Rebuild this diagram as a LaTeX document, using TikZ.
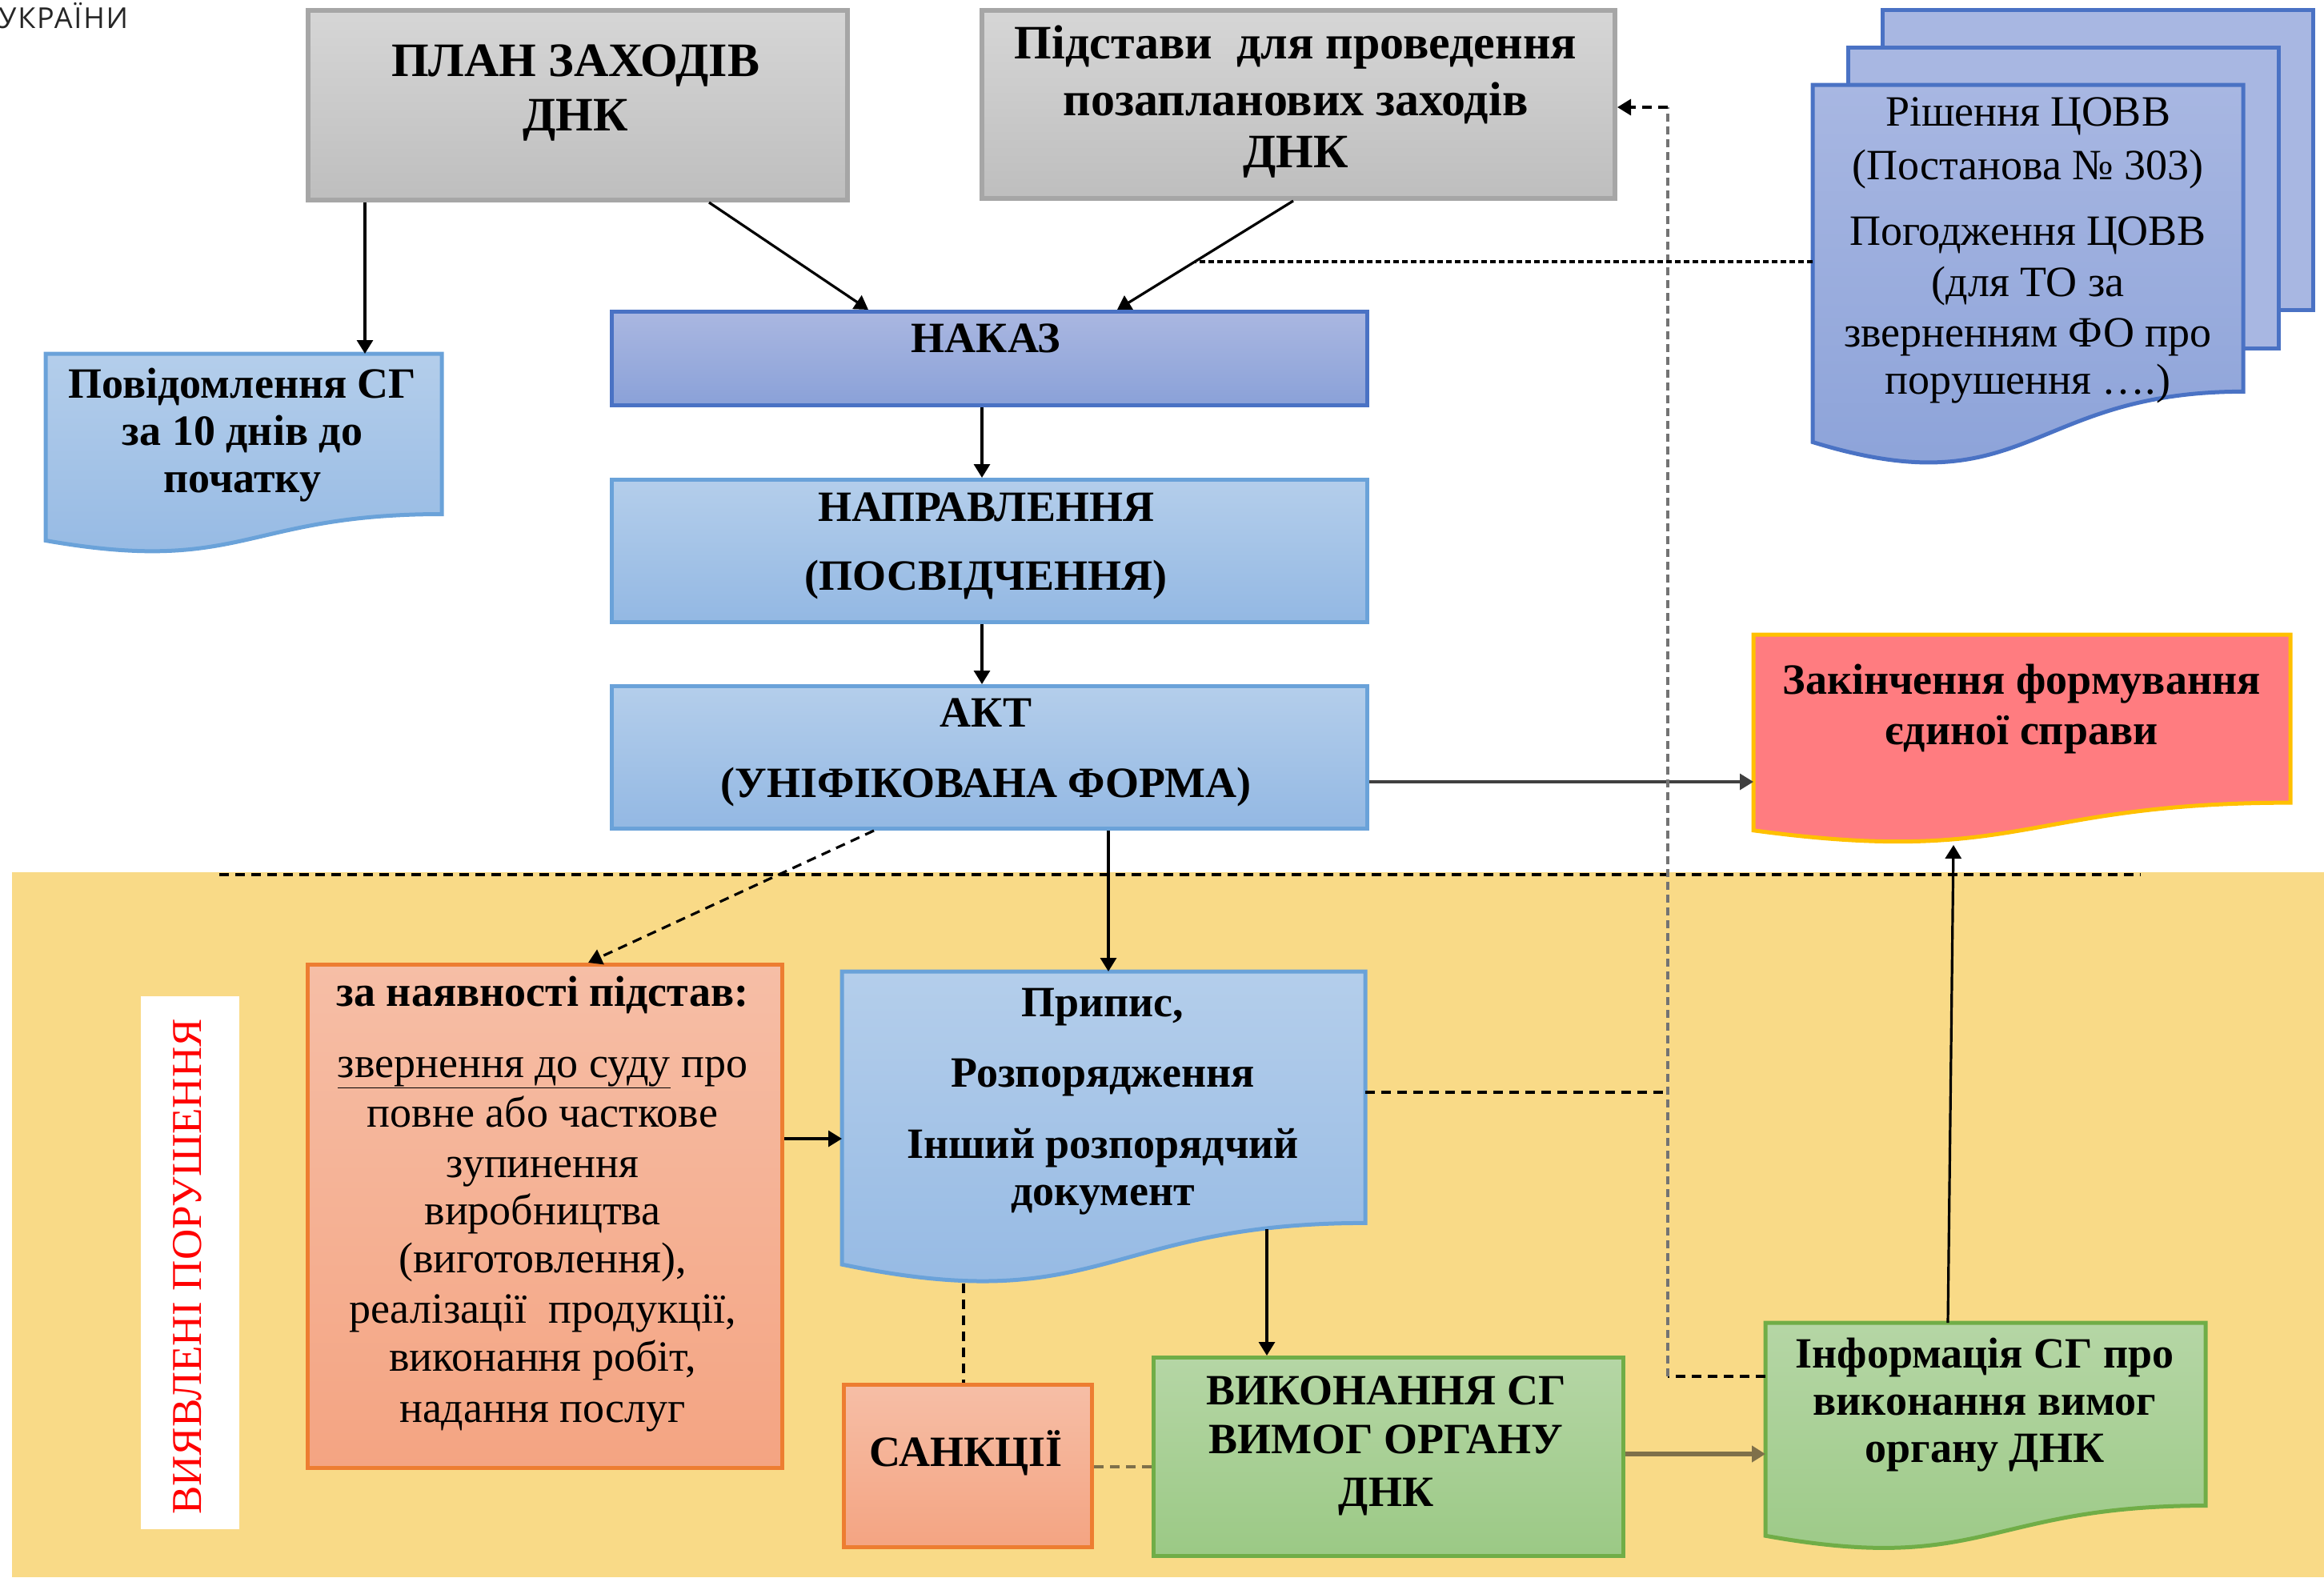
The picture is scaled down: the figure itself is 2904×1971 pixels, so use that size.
\documentclass[tikz,border=0pt]{standalone}
\usepackage{fontspec}
\setmainfont{Liberation Serif}
\newfontfamily\sansf[LetterSpace=5]{Open Sans}
\usetikzlibrary{arrows.meta,calc}
\definecolor{bgY}{HTML}{F9DA87}
\definecolor{grT}{HTML}{D6D6D6}
\definecolor{grB}{HTML}{BEBEBE}
\definecolor{grD}{HTML}{A6A6A6}
\definecolor{nkT}{HTML}{AAB7E1}
\definecolor{nkB}{HTML}{8AA1D8}
\definecolor{nkD}{HTML}{4A72C4}
\definecolor{lbT}{HTML}{B4CEEB}
\definecolor{lbB}{HTML}{93B8E3}
\definecolor{lbD}{HTML}{6AA2D9}
\definecolor{stT}{HTML}{A8B7E2}
\definecolor{stB}{HTML}{8AA1D8}
\definecolor{pkF}{HTML}{FF7C80}
\definecolor{pkD}{HTML}{FFC000}
\definecolor{saT}{HTML}{F6BEA6}
\definecolor{saB}{HTML}{F4A482}
\definecolor{saD}{HTML}{ED7D31}
\definecolor{gnT}{HTML}{B5D6A5}
\definecolor{gnB}{HTML}{9BC985}
\definecolor{gnD}{HTML}{70AD47}
\definecolor{brn}{HTML}{7F704A}
\tikzset{
  boxbase/.style={anchor=north west, inner sep=0pt, line width=5pt},
  graybox/.style={boxbase, top color=grT, bottom color=grB, draw=grD, line width=6pt},
  navybox/.style={boxbase, top color=nkT, bottom color=nkB, draw=nkD},
  bluebox/.style={boxbase, top color=lbT, bottom color=lbB, draw=lbD},
  salbox/.style={boxbase, top color=saT, bottom color=saB, draw=saD},
  grnbox/.style={boxbase, top color=gnT, bottom color=gnB, draw=gnD},
  hidden/.style={anchor=north west, inner sep=0pt, draw=none},
  tb/.style={anchor=base, inner sep=0pt, font=\fontsize{54}{61}\selectfont\bfseries},
  tbig/.style={anchor=base, inner sep=0pt, font=\fontsize{60}{66}\selectfont\bfseries},
  tr/.style={anchor=base, inner sep=0pt, font=\fontsize{54}{61}\selectfont},
  tip/.style={-{Triangle[length=17pt,width=20pt]}},
  conn/.style={draw=black, line width=3.2pt, tip},
  dsh/.style={draw=black, line width=3.2pt, dash pattern=on 12pt off 8pt},
  fdots/.style={draw=black, line width=3.5pt, dash pattern=on 7pt off 4pt},
  gdots/.style={draw=black!55, line width=4.5pt, dash pattern=on 10pt off 6pt},
}
\newcommand\docpath[5]{%
  \path[#5] (#1,#2) -- ({#1+#3},#2) -- ({#1+#3},{#2+0.802*#4})
    .. controls ({#1+0.5*#3},{#2+0.802*#4}) and ({#1+0.5*#3},{#2+1.1075*#4})
    .. (#1,{#2+0.934*#4}) -- cycle;}
\begin{document}
\begin{tikzpicture}[x=1pt,y=-1pt]
\useasboundingbox (0,0) rectangle (2904,1971);
% background
\fill[bgY] (15,1090) rectangle (2904,1971);
\fill[white] (176,1245) rectangle (299,1911);
\node[rotate=90, inner sep=0pt, text=red, font=\fontsize{53}{61}\selectfont] (vyyav) at (234,1583) {ВИЯВЛЕНІ ПОРУШЕННЯ};
\node[anchor=base west, inner sep=0pt, font=\sansf\fontsize{36}{42}\selectfont, text=black!85] (ukr) at (-2,35) {УКРАЇНИ};
% separator
\draw[dsh] (274,1093) -- (2675,1093);

% rectangular boxes
\node[graybox, minimum width=674pt, minimum height=237pt] (plan) at (382,10) {};
\node[graybox, minimum width=791pt, minimum height=235pt] (pidst) at (1224,10) {};
\node[navybox, minimum width=944pt, minimum height=117pt] (nakaz) at (762,387) {};
\node[bluebox, minimum width=944pt, minimum height=178pt] (napr) at (762,597) {};
\node[bluebox, minimum width=944pt, minimum height=178pt] (akt) at (762,855) {};
\node[salbox, minimum width=593pt, minimum height=629pt] (nayav) at (382,1203) {};
\node[salbox, minimum width=310pt, minimum height=203pt] (sank) at (1052,1728) {};
\node[grnbox, minimum width=587pt, minimum height=248pt] (vykon) at (1439,1694) {};

% document shapes
\docpath{57}{442}{495}{250}{top color=lbT, bottom color=lbB, draw=lbD, line width=5pt}
\node[hidden, minimum width=495pt, minimum height=200pt] (povid) at (57,442) {};
\docpath{2191}{793}{671}{262}{fill=pkF, draw=pkD, line width=5pt}
\node[hidden, minimum width=671pt, minimum height=210pt] (zakin) at (2191,793) {};
\path[fill=stT, draw=nkD, line width=5pt] (2352,12) rectangle (2890,387);
\path[fill=stT, draw=nkD, line width=5pt] (2309,59) rectangle (2847,435);
\docpath{2265}{106}{538}{478}{top color=stT, bottom color=stB, draw=nkD, line width=5pt}
\node[hidden, minimum width=538pt, minimum height=383pt] (stack) at (2265,106) {};
\docpath{1052}{1214}{654}{392}{top color=lbT, bottom color=lbB, draw=lbD, line width=5pt}
\node[hidden, minimum width=654pt, minimum height=314pt] (prypys) at (1052,1214) {};
\docpath{2206}{1653}{550}{285}{top color=gnT, bottom color=gnB, draw=gnD, line width=5pt}
\node[hidden, minimum width=550pt, minimum height=229pt] (inform) at (2206,1653) {};

% texts
\node[tbig] (planA) at (719,95) {ПЛАН ЗАХОДІВ};
\node[tbig] (planB) at (719,163) {ДНК};
\node[tbig] (pidA) at (1619,73) {Підстави\ \ для проведення};
\node[tbig] (pidB) at (1619,144) {позапланових заходів};
\node[tbig] (pidC) at (1619,209) {ДНК};
\node[tr] (stA) at (2534,157) {Рішення ЦОВВ};
\node[tr] (stB) at (2534,224) {(Постанова № 303)};
\node[tr] (stC) at (2534,306) {Погодження ЦОВВ};
\node[tr] (stD) at (2534,370) {(для ТО за};
\node[tr] (stE) at (2534,433) {зверненням ФО про};
\node[tr] (stF) at (2534,492) {порушення ….)};
\node[tb] (nkA) at (1232,440) {НАКАЗ};
\node[tb] (npA) at (1232,651) {НАПРАВЛЕННЯ};
\node[tb] (npB) at (1232,737) {(ПОСВІДЧЕННЯ)};
\node[tb] (akA) at (1232,908) {АКТ};
\node[tb] (akB) at (1232,996) {(УНІФІКОВАНА ФОРМА)};
\node[tb] (pvA) at (303,497) {Повідомлення СГ};
\node[tb] (pvB) at (303,556) {за 10 днів до};
\node[tb] (pvC) at (303,615) {початку};
\node[tb] (zkA) at (2526,867) {Закінчення формування};
\node[tb] (zkB) at (2526,930) {єдиної справи};
\node[tb] (nyA) at (678,1257) {за наявності підстав:};
\node[tr] (nyB) at (678,1346) {\underline{звернення до суду} про};
\node[tr] (nyC) at (678,1408) {повне або часткове};
\node[tr] (nyD) at (678,1471) {зупинення};
\node[tr] (nyE) at (678,1530) {виробництва};
\node[tr] (nyF) at (678,1590) {(виготовлення),};
\node[tr] (nyG) at (678,1653) {реалізації\ \ продукції,};
\node[tr] (nyH) at (678,1713) {виконання робіт,};
\node[tr] (nyI) at (678,1777) {надання послуг};
\node[tb] (prA) at (1378,1270) {Припис,};
\node[tb] (prB) at (1378,1358) {Розпорядження};
\node[tb] (prC) at (1378,1447) {Інший розпорядчий};
\node[tb] (prD) at (1378,1506) {документ};
\node[tb] (snA) at (1207,1832) {САНКЦІЇ};
\node[tb] (vkA) at (1732,1755) {ВИКОНАННЯ СГ};
\node[tb] (vkB) at (1732,1816) {ВИМОГ ОРГАНУ};
\node[tb] (vkC) at (1732,1882) {ДНК};
\node[tb] (ifA) at (2480,1709) {Інформація СГ про};
\node[tb] (ifB) at (2480,1768) {виконання вимог};
\node[tb] (ifC) at (2480,1827) {органу ДНК};

% helper coordinates
\coordinate (prBot) at (1583,1536);
\coordinate (prBotL) at (1204,1604);
\coordinate (zkBot) at (2441,1056);
\coordinate (cLow) at (2084,1720);
\coordinate (cHigh) at (2084,134);
\coordinate (cMid) at (2084,1365);
\coordinate (onLine) at ($(pidst.south -| 1616,0)!0.56!(nakaz.north -| 1396,0)$);

% connectors
\draw[conn] (plan.south -| 456,0) -- (povid.north -| 456,0);
\draw[conn] (plan.south -| 886,0) -- (nakaz.north -| 1085,0);
\draw[conn] (pidst.south -| 1616,0) -- (nakaz.north -| 1396,0);
\draw[conn] (nakaz.south -| 1227,0) -- (napr.north -| 1227,0);
\draw[conn] (napr.south -| 1227,0) -- (akt.north -| 1227,0);
\draw[conn, draw=black!75] (akt.east |- 0,977) -- (zakin.west |- 0,977);
\draw[conn] (akt.south -| 1385,0) -- (prypys.north -| 1385,0);
\draw[dsh, tip] (akt.south -| 1092,0) -- (nayav.north -| 735,0);
\draw[conn] (nayav.east |- 0,1423) -- (prypys.west |- 0,1423);
\draw[conn] (prBot) -- (vykon.north -| 1583,0);
\draw[dsh] (prBotL) -- (sank.north -| 1204,0);
\draw[dsh, draw=brn] (sank.east |- 0,1833) -- (vykon.west |- 0,1833);
\draw[conn, draw=brn, line width=6pt] (vykon.east |- 0,1817) -- (inform.west |- 0,1817);
\draw[conn] (inform.north -| 2434,0) -- (zkBot);
\draw[dsh] (inform.west |- cLow) -- (cLow);
\draw[gdots] (cLow) -- (cHigh);
\draw[dsh, tip] (cHigh) -- (pidst.east |- cHigh);
\draw[dsh] (prypys.east |- cMid) -- (cMid);
\draw[fdots] (stack.west |- onLine) -- (onLine);
\end{tikzpicture}
\end{document}
